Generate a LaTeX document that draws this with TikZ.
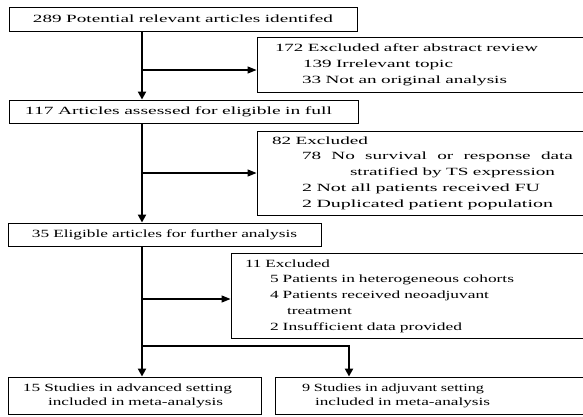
\documentclass[tikz,border=0pt]{standalone}
\usepackage{graphicx}
\usepackage{fontspec}
\setmainfont[FakeStretch=1.45]{Liberation Serif}
\usetikzlibrary{arrows.meta,positioning}

% one line of a box: indent, width, text
\newcommand{\fitrow}[3]{\hspace*{#1}\resizebox{#2}{\height}{#3}}
\newcommand{\spreadrow}[4]{\fitrow{#1}{#2}{\makebox[#3][s]{\spaceskip=.3333em plus 1fil\relax #4}}}

\begin{document}
\begin{tikzpicture}[x=1pt,y=-1pt,
  stage/.style={draw,line width=0.9pt,inner sep=0pt,align=left,font=\fontsize{11}{15.8}\selectfont},
  flow/.style={line width=2pt,-{Triangle[length=8pt,width=8pt]}},
  side/.style={line width=1.2pt,-{Triangle[length=9pt,width=7pt]}}]

  \useasboundingbox (0,0) rectangle (583,416);

  % main stages
  \node[stage,text width=348pt,minimum height=24pt] (found) at (183,19)
    {\fitrow{24pt}{300pt}{289 Potential relevant articles identifed}};
  \node[stage,text width=349pt,minimum height=23pt] (assess) at (183.5,111.5)
    {\fitrow{16pt}{307pt}{117 Articles assessed for eligible in full}};
  \node[stage,text width=313pt,minimum height=23pt] (elig) at (164.5,234.5)
    {\fitrow{24pt}{265pt}{35 Eligible articles for further analysis}};

  % exclusions
  \node[stage,text width=327.5pt,minimum height=55pt] (excla) at (420.75,65)
    {\fitrow{18pt}{263pt}{172 Excluded after abstract review}\\
     \fitrow{46pt}{150pt}{139 Irrelevant topic}\\
     \fitrow{45pt}{205pt}{33 Not an original analysis}};
  \node[stage,text width=327.5pt,minimum height=84pt] (exclb) at (420.75,173)
    {\fitrow{15pt}{96pt}{82 Excluded}\\
     \spreadrow{45pt}{271pt}{225pt}{78 No survival or response data}\\
     \fitrow{93pt}{205pt}{stratified by TS expression}\\
     \fitrow{45pt}{238pt}{2 Not all patients received FU}\\
     \fitrow{45pt}{251pt}{2 Duplicated patient population}};
  \node[stage,text width=353.5pt,minimum height=85pt] (exclc) at (407.75,296)
    {\fitrow{14pt}{85pt}{11 Excluded}\\
     \fitrow{39pt}{244pt}{5 Patients in heterogeneous cohorts}\\
     \fitrow{39pt}{219pt}{4 Patients received neoadjuvant}\\
     \fitrow{56pt}{65pt}{treatment}\\
     \fitrow{39pt}{192pt}{2 Insufficient data provided}};

  % included
  \node[stage,text width=253pt,minimum height=37.5pt,font=\fontsize{11}{14.5}\selectfont] (advan) at (134.5,395.75)
    {\fitrow{15pt}{209pt}{15 Studies in advanced setting}\\
     \fitrow{40pt}{175pt}{included in meta-analysis}};
  \node[stage,text width=309.5pt,minimum height=37.5pt,font=\fontsize{11}{14.5}\selectfont] (adjuv) at (429.75,395.75)
    {\fitrow{27pt}{182pt}{9 Studies in adjuvant setting}\\
     \fitrow{40pt}{175pt}{included in meta-analysis}};

  % trunk and branches
  \coordinate (trunk) at (142,0);
  \coordinate (ba) at (142,70);
  \coordinate (bb) at (142,173);
  \coordinate (bc) at (142,299);
  \coordinate (split) at (142,346);
  \coordinate (drop) at (349,346);

  \draw[flow] (found.south -| trunk) -- (assess.north -| trunk);
  \draw[flow] (assess.south -| trunk) -- (elig.north -| trunk);
  \draw[flow] (elig.south -| trunk) -- (advan.north -| trunk);

  \draw[side] (ba) -- (ba -| excla.west);
  \draw[side] (bb) -- (bb -| exclb.west);
  \draw[side] (bc) -- (bc -| exclc.west);

  \draw[line width=1.2pt] (split) -- ([xshift=1pt]drop);
  \draw[flow] ([yshift=-0.6pt]drop) -- (drop |- adjuv.north);
\end{tikzpicture}
\end{document}
